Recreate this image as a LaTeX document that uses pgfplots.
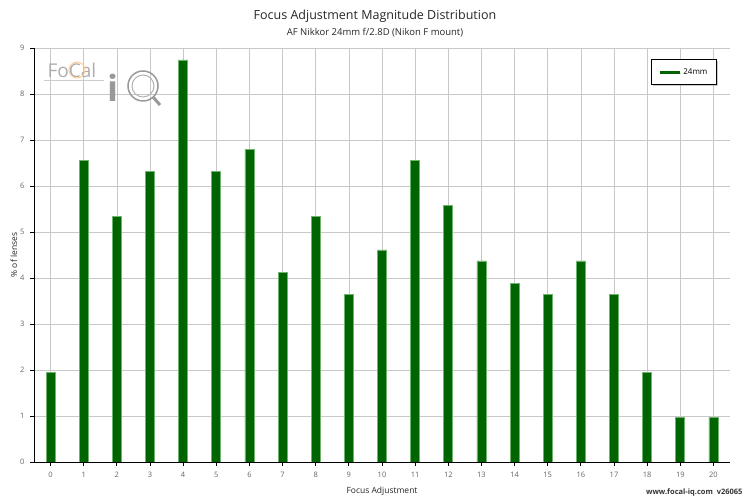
\documentclass[border=0pt]{standalone}
\usepackage{pgfplots}
\pgfplotsset{compat=1.18}
\usepackage{fontspec}
\setmainfont{Open Sans}
\usetikzlibrary{shadows}
\definecolor{bargreen}{RGB}{0,100,0}
\definecolor{baredge}{RGB}{110,180,110}
\definecolor{gridgray}{RGB}{200,200,200}
\definecolor{ticklab}{RGB}{100,100,100}
\begin{document}
\begin{tikzpicture}[x=1pt,y=1pt]
\useasboundingbox (0,0) rectangle (750,500);
\begin{axis}[
  at={(34pt,38pt)}, anchor=south west,
  width=696pt, height=414pt, scale only axis,
  xmin=-0.5, xmax=20.5, ymin=0, ymax=9,
  xtick={0,...,20}, ytick={0,...,9},
  axis x line*=bottom, axis y line*=left,
  axis line style={-, black, line width=0.9pt},
  tick align=outside, major tick length=4pt,
  tick style={black, line width=0.8pt},
  grid=major, major grid style={gridgray, line width=0.6pt},
  ticklabel style={font=\fontsize{7.5}{8}\selectfont, text=ticklab},
  xticklabel style={yshift=-3pt}, yticklabel style={xshift=-2pt},
  /pgf/number format/assume math mode=true,
  xlabel={Focus Adjustment}, ylabel={\% of lenses},
  label style={font=\fontsize{8.5}{10}\selectfont, text=black!85},
  xlabel style={yshift=-2pt}, ylabel style={yshift=-4pt},
  legend style={at={(0.981,0.973)}, anchor=north east, draw=black, line width=0.7pt,
    drop shadow={shadow xshift=1.5pt, shadow yshift=-1.5pt, fill=black!40},
    font=\fontsize{8}{9}\selectfont, inner xsep=7pt, inner ysep=7pt, fill=white},
  ybar, bar width=9pt, bar shift=0pt,
]
\addplot[fill=bargreen, draw=baredge, line width=0.6pt,
  legend image code/.code={\draw[bargreen, line width=3pt] (0pt,0pt) -- (20pt,0pt);}] coordinates {
(0,1.94) (1,6.55) (2,5.34) (3,6.31) (4,8.74) (5,6.31) (6,6.80) (7,4.13) (8,5.34) (9,3.64)
(10,4.61) (11,6.55) (12,5.58) (13,4.37) (14,3.88) (15,3.64) (16,4.37) (17,3.64) (18,1.94) (19,0.97) (20,0.97)};
\addlegendentry{24mm}
\end{axis}
% titles
\node[font=\fontsize{12.5}{14}\selectfont, text=black!85] at (375,484) {Focus Adjustment Magnitude Distribution};
\node[font=\fontsize{9.5}{11}\selectfont, text=black!85] at (375,467) {AF Nikkor 24mm f/2.8D (Nikon F mount)};
% footer
\node[font=\bfseries\fontsize{7.5}{9}\selectfont, text=black!80, anchor=east] at (746,7) {www.focal-iq.com\ \ v26065};
% watermark logo
\node[font=\fontsize{19}{20}\selectfont, text=black!32, anchor=west] at (44,430) {FoCal};
\draw[orange!40, line width=1pt] (77,430) circle (8);
\draw[black!20, line width=0.6pt] (44,420) -- (104,420);
\node[font=\bfseries\fontsize{36}{38}\selectfont, text=black!40, anchor=west] at (104,412) {i};
\draw[black!40, line width=1.5pt] (143,414) circle (15);
\draw[black!30, line width=1pt] (143,414) circle (11);
\draw[black!40, line width=3pt] (153,403) -- (160,395);
\end{tikzpicture}
\end{document}
